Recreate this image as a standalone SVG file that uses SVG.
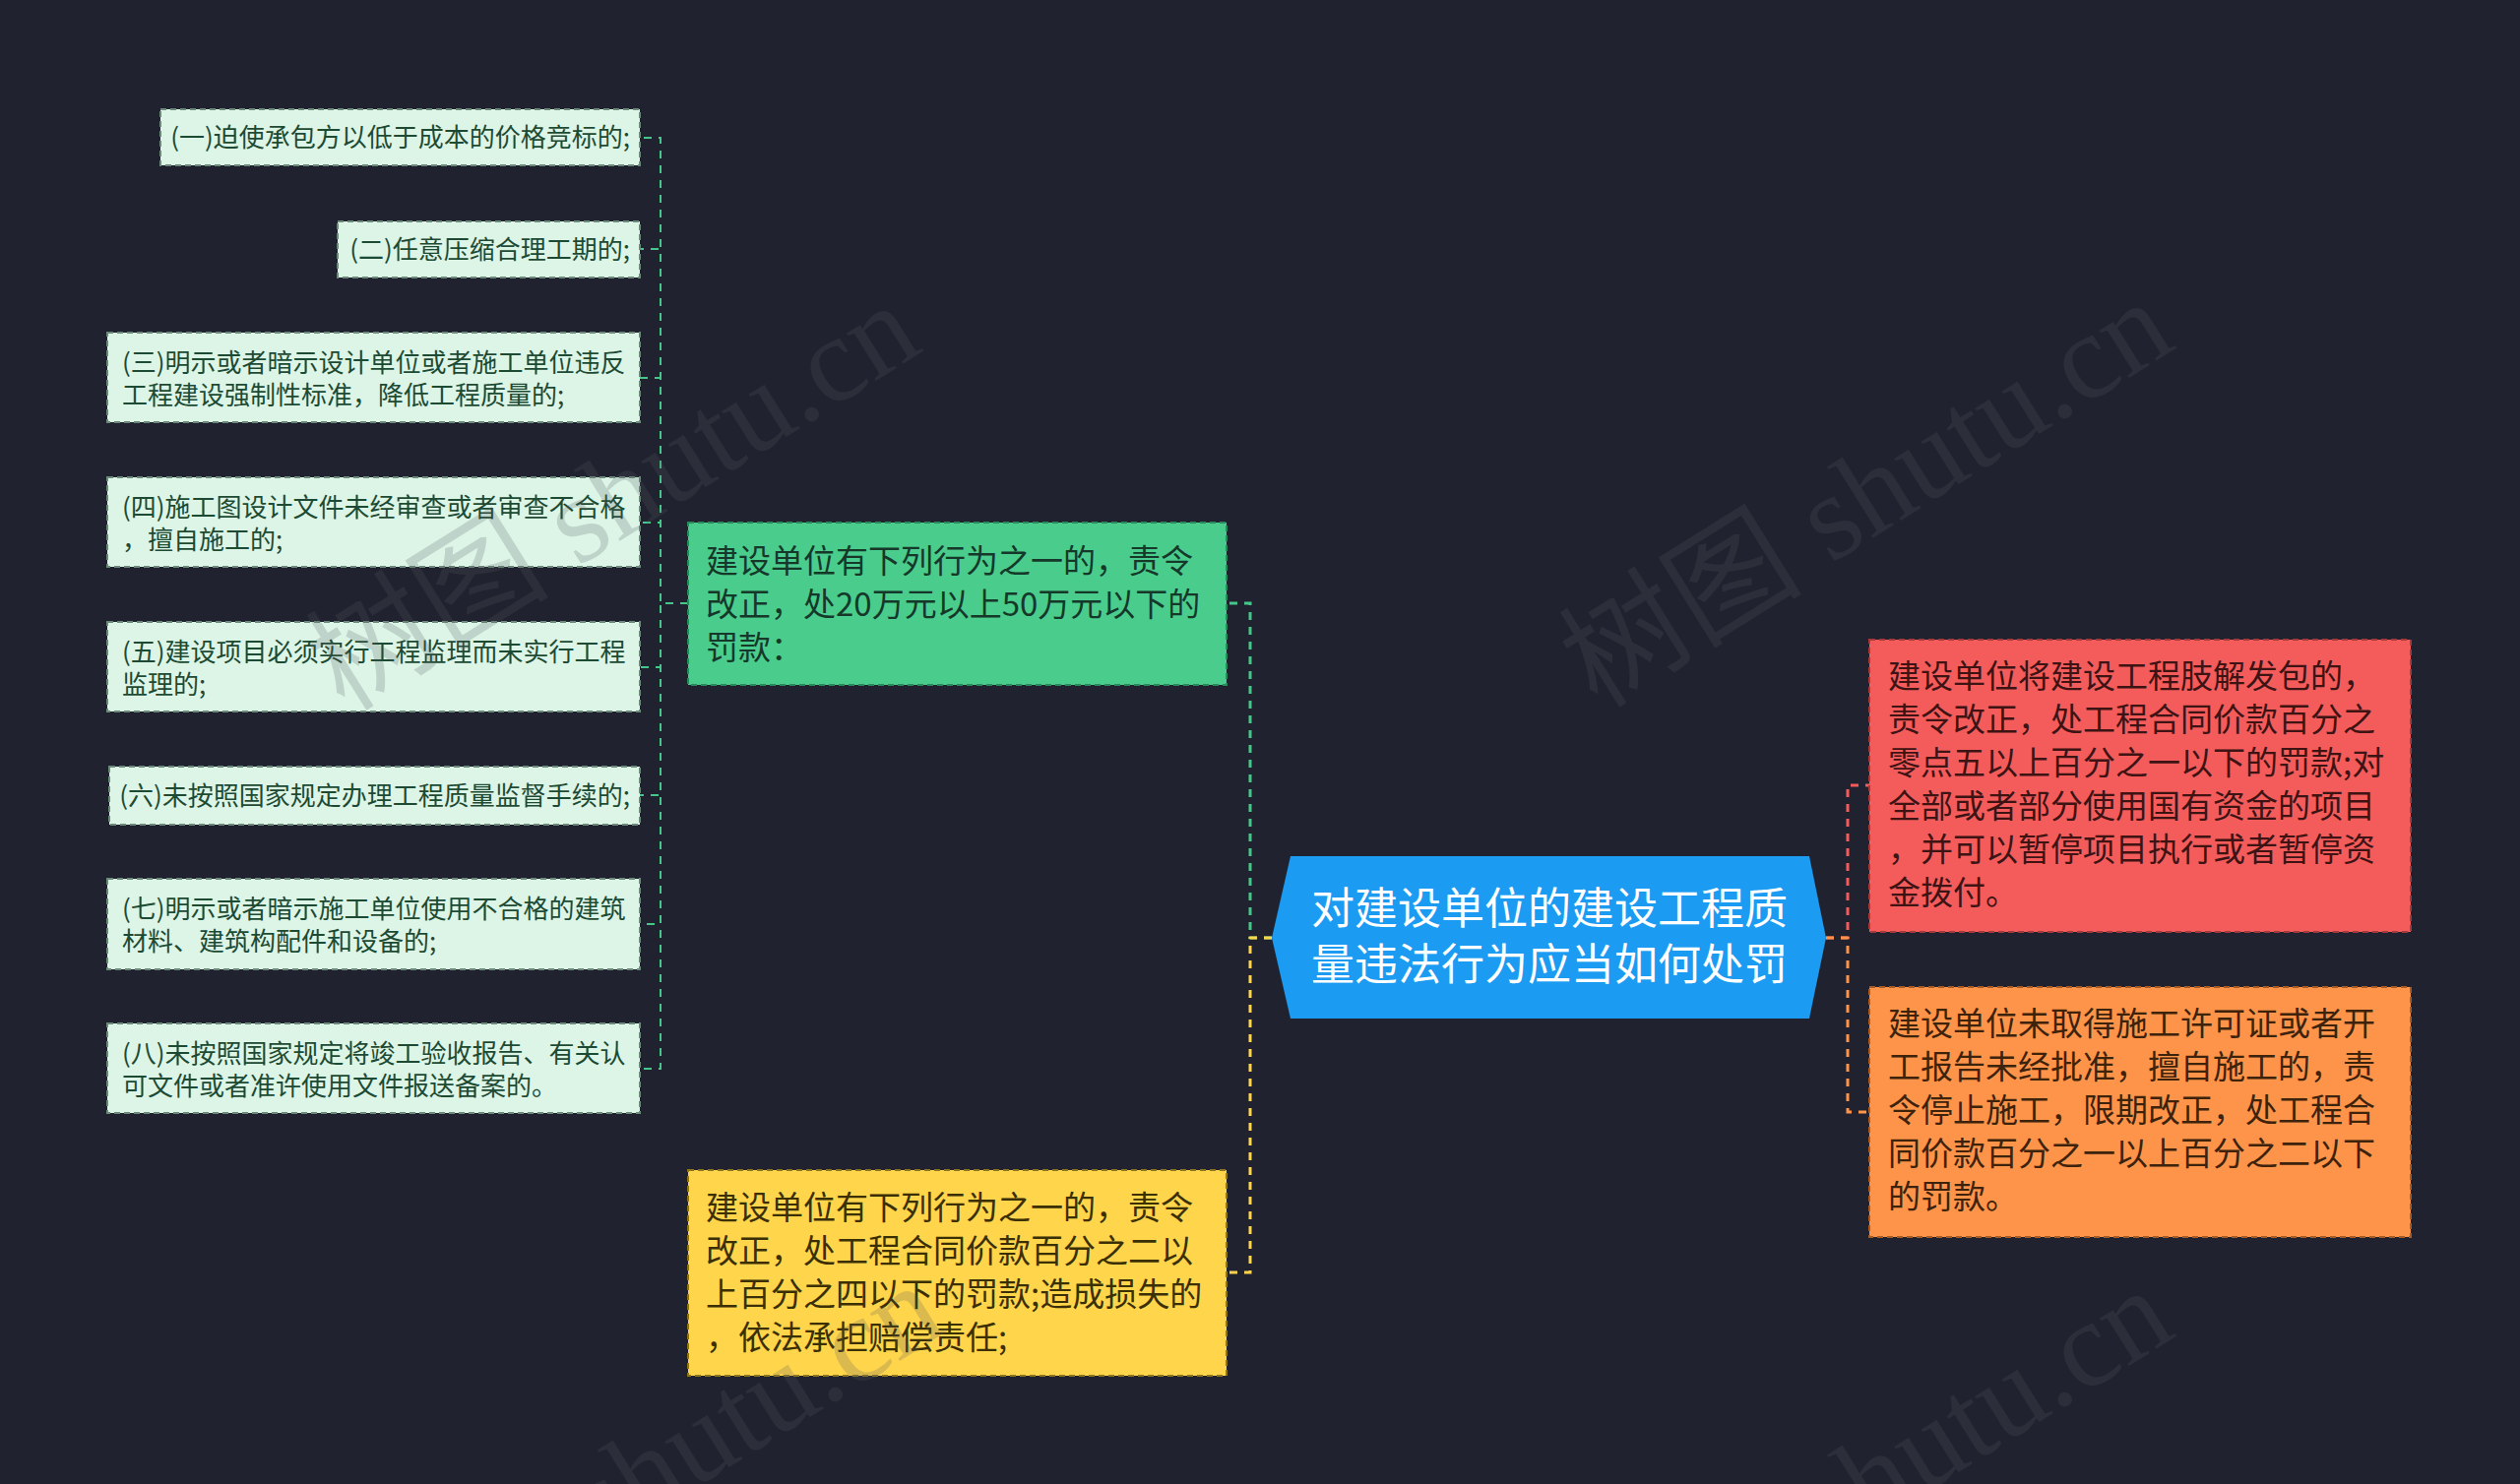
<svg xmlns="http://www.w3.org/2000/svg" width="2560" height="1508" viewBox="0 0 2560 1508">
<style>
.bg{fill:#20232f}
.leaf rect{fill:#dcf5e7;stroke:#6b8a79;stroke-width:2;stroke-dasharray:6 4}
.leaf text{font-family:"Noto Sans CJK SC","Noto Sans",sans-serif;font-size:26px;fill:#1d4a33}
.lvl1 text{font-family:"Noto Sans CJK SC","Noto Sans",sans-serif;font-size:33px}
.green rect{fill:#4acd8c;stroke:#2b8a5b;stroke-width:2;stroke-dasharray:6 4}
.green text{fill:#15382a}
.yellow rect{fill:#ffd54b;stroke:#8d7520;stroke-width:2;stroke-dasharray:6 4}
.yellow text{fill:#3a2f05}
.red rect{fill:#f45c5c;stroke:#a63a3a;stroke-width:2;stroke-dasharray:6 4}
.red text{fill:#3d1313}
.orange rect{fill:#fd9449;stroke:#a85c25;stroke-width:2;stroke-dasharray:6 4}
.orange text{fill:#3d220c}
.root polygon{fill:#1b9bf1}
.root text{font-family:"Noto Sans CJK SC","Noto Sans",sans-serif;font-size:44px;fill:#ffffff;text-anchor:middle}
.conn path{fill:none}
.c-leaf{stroke:#45c78a;stroke-width:2;stroke-dasharray:8 7}
.c-green{stroke:#45c78a;stroke-width:3;stroke-dasharray:8 7}
.c-yellow{stroke:#ffd54b;stroke-width:3;stroke-dasharray:8 7}
.c-red{stroke:#f45c5c;stroke-width:3;stroke-dasharray:8 7}
.c-orange{stroke:#fd9449;stroke-width:3;stroke-dasharray:8 7}
.wm{font-family:"Liberation Serif","Noto Sans CJK SC",serif;font-size:124px;fill:#555a5e;fill-opacity:0.22;text-anchor:middle}
</style>
<rect class="bg" x="0" y="0" width="2560" height="1508"/>

<g id="connectors" class="conn">
<path class="c-leaf" d="M699 613 H671 V140 H650"/>
<path class="c-leaf" d="M699 613 H671 V253 H650"/>
<path class="c-leaf" d="M699 613 H671 V384 H650"/>
<path class="c-leaf" d="M699 613 H671 V531 H650"/>
<path class="c-leaf" d="M699 613 H671 V678 H650"/>
<path class="c-leaf" d="M699 613 H671 V808 H650"/>
<path class="c-leaf" d="M699 613 H671 V939 H650"/>
<path class="c-leaf" d="M699 613 H671 V1086 H650"/>
<path class="c-green" d="M1292 953 H1270 V613 H1246"/>
<path class="c-yellow" d="M1292 953 H1270 V1293 H1246"/>
<path class="c-red" d="M1855 953 H1877 V798 H1899"/>
<path class="c-orange" d="M1855 953 H1877 V1130 H1899"/>
</g>

<g id="root" class="root">
<polygon points="1292,953 1311,870 1838,870 1855,953 1838,1035 1311,1035"/>
<text x="1574" y="939">对建设单位的建设工程质</text>
<text x="1574" y="996">量违法行为应当如何处罚</text>
</g>

<g id="branch-green" class="lvl1 green">
<rect x="699" y="531" width="547" height="165"/>
<text x="717" y="582">建设单位有下列行为之一的，责令</text>
<text x="717" y="626">改正，处20万元以上50万元以下的</text>
<text x="717" y="670">罚款：</text>
</g>

<g id="branch-yellow" class="lvl1 yellow">
<rect x="699" y="1189" width="547" height="209"/>
<text x="717" y="1239">建设单位有下列行为之一的，责令</text>
<text x="717" y="1283">改正，处工程合同价款百分之二以</text>
<text x="717" y="1327">上百分之四以下的罚款;造成损失的</text>
<text x="717" y="1371">，依法承担赔偿责任;</text>
</g>

<g id="branch-red" class="lvl1 red">
<rect x="1899" y="650" width="550" height="297"/>
<text x="1918" y="699">建设单位将建设工程肢解发包的，</text>
<text x="1918" y="743">责令改正，处工程合同价款百分之</text>
<text x="1918" y="787">零点五以上百分之一以下的罚款;对</text>
<text x="1918" y="831">全部或者部分使用国有资金的项目</text>
<text x="1918" y="875">，并可以暂停项目执行或者暂停资</text>
<text x="1918" y="919">金拨付。</text>
</g>

<g id="branch-orange" class="lvl1 orange">
<rect x="1899" y="1003" width="550" height="254"/>
<text x="1918" y="1052">建设单位未取得施工许可证或者开</text>
<text x="1918" y="1096">工报告未经批准，擅自施工的，责</text>
<text x="1918" y="1140">令停止施工，限期改正，处工程合</text>
<text x="1918" y="1184">同价款百分之一以上百分之二以下</text>
<text x="1918" y="1228">的罚款。</text>
</g>

<g id="leaf-1" class="leaf">
<rect x="163" y="111" width="487" height="57"/>
<text x="640" y="149" text-anchor="end">(一)迫使承包方以低于成本的价格竞标的;</text>
</g>
<g id="leaf-2" class="leaf">
<rect x="343" y="225" width="307" height="57"/>
<text x="640" y="263" text-anchor="end">(二)任意压缩合理工期的;</text>
</g>
<g id="leaf-3" class="leaf">
<rect x="109" y="338" width="541" height="91"/>
<text x="124" y="378">(三)明示或者暗示设计单位或者施工单位违反</text>
<text x="124" y="411">工程建设强制性标准，降低工程质量的;</text>
</g>
<g id="leaf-4" class="leaf">
<rect x="109" y="485" width="541" height="91"/>
<text x="124" y="525">(四)施工图设计文件未经审查或者审查不合格</text>
<text x="124" y="558">，擅自施工的;</text>
</g>
<g id="leaf-5" class="leaf">
<rect x="109" y="632" width="541" height="91"/>
<text x="124" y="672">(五)建设项目必须实行工程监理而未实行工程</text>
<text x="124" y="705">监理的;</text>
</g>
<g id="leaf-6" class="leaf">
<rect x="111" y="779" width="539" height="59"/>
<text x="640" y="818" text-anchor="end">(六)未按照国家规定办理工程质量监督手续的;</text>
</g>
<g id="leaf-7" class="leaf">
<rect x="109" y="893" width="541" height="92"/>
<text x="124" y="933">(七)明示或者暗示施工单位使用不合格的建筑</text>
<text x="124" y="966">材料、建筑构配件和设备的;</text>
</g>
<g id="leaf-8" class="leaf">
<rect x="109" y="1040" width="541" height="91"/>
<text x="124" y="1080">(八)未按照国家规定将竣工验收报告、有关认</text>
<text x="124" y="1113">可文件或者准许使用文件报送备案的。</text>
</g>

<g id="watermarks">
<text class="wm" transform="translate(645 540) rotate(-32)">树图 shutu.cn</text>
<text class="wm" transform="translate(1918 537) rotate(-32)">树图 shutu.cn</text>
<text class="wm" transform="translate(669 1536) rotate(-32)">树图 shutu.cn</text>
<text class="wm" transform="translate(1918 1541) rotate(-32)">树图 shutu.cn</text>
</g>
</svg>
